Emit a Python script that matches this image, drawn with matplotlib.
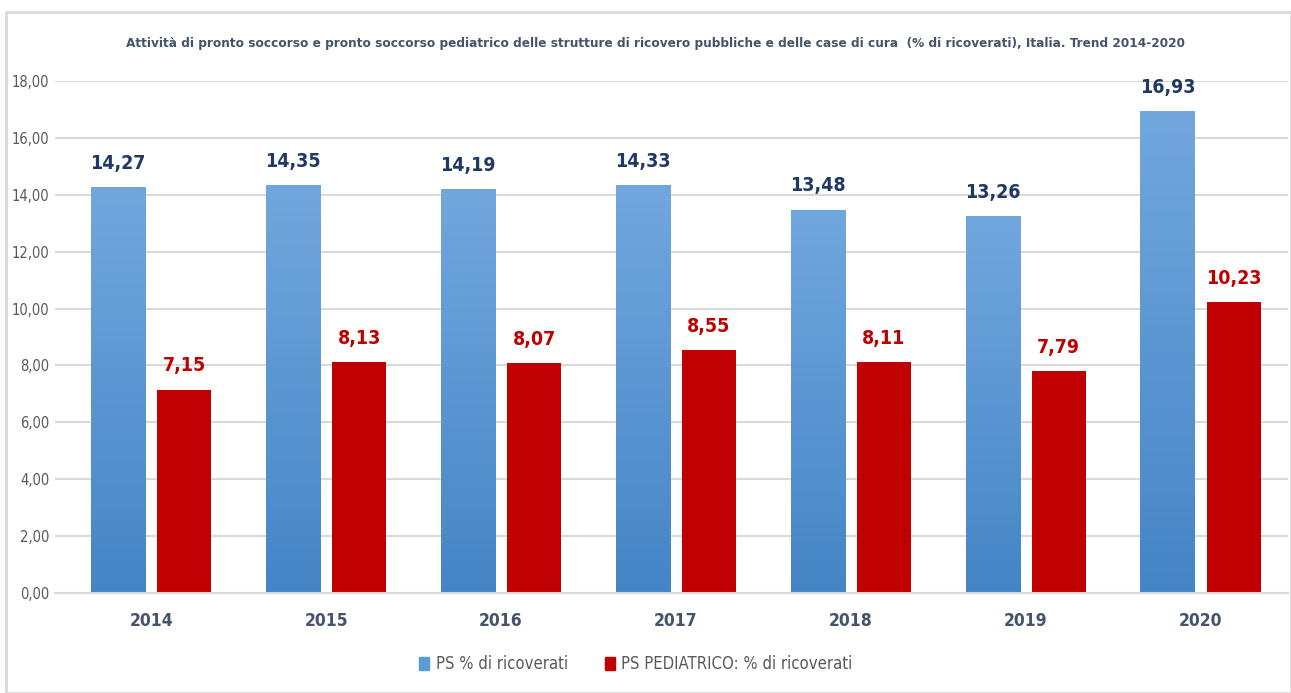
import matplotlib
matplotlib.use("Agg")
import matplotlib.pyplot as plt
import numpy as np
from matplotlib.patches import Rectangle
from matplotlib.colors import LinearSegmentedColormap

years = ["2014", "2015", "2016", "2017", "2018", "2019", "2020"]
ps = [14.27, 14.35, 14.19, 14.33, 13.48, 13.26, 16.93]
ps_ped = [7.15, 8.13, 8.07, 8.55, 8.11, 7.79, 10.23]
yticks = [0, 2, 4, 6, 8, 10, 12, 14, 16, 18]
title = "Attività di pronto soccorso e pronto soccorso pediatrico delle strutture di ricovero pubbliche e delle case di cura  (% di ricoverati), Italia. Trend 2014-2020"
legend_labels = ["PS % di ricoverati", "PS PEDIATRICO: % di ricoverati"]

plt.rcParams['font.family'] = ['DejaVu Sans']
plt.rcParams['font.stretch'] = 'condensed'

fig = plt.figure(figsize=(12.91, 6.93), dpi=100)
fig.patches.append(Rectangle((6/1291, 0), 1 - 6/1291, 1 - 12/693, transform=fig.transFigure,
                             fill=False, edgecolor="#d9d9d9", linewidth=2))
ax = fig.add_axes([55/1291, 100/693, (1288-55)/1291, (593-81)/693])

x = np.arange(len(years))
w = 0.309
off = 0.189
blue_bars = ax.bar(x - off, ps, width=w, color="#5b9bd5", zorder=2)
red_bars = ax.bar(x + off, ps_ped, width=w, color="#c00000", zorder=2)

grad = np.linspace(0, 1, 256).reshape(-1, 1)
cmap = LinearSegmentedColormap.from_list("g", ["#4585c6", "#72a7de"])
for b in blue_bars:
    bx, by, bw, bh = b.get_x(), b.get_y(), b.get_width(), b.get_height()
    im = ax.imshow(grad, extent=[bx, bx + bw, by, by + bh], origin="lower", cmap=cmap,
                   aspect="auto", zorder=2.1)
    im.set_clip_path(b)

for xi, v in zip(x, ps):
    ax.text(xi - off, v + 0.5, f"{v:.2f}".replace(".", ","), ha="center", va="bottom",
            fontsize=14, fontweight="bold", color="#1f3864")
for xi, v in zip(x, ps_ped):
    ax.text(xi + off, v + 0.5, f"{v:.2f}".replace(".", ","), ha="center", va="bottom",
            fontsize=14, fontweight="bold", color="#c00000")

ax.set_xlim(-0.55, 6.5)
ax.set_ylim(0, 18)
ax.set_yticks(yticks)
ax.set_yticklabels([f"{t:.2f}".replace(".", ",") for t in yticks], fontsize=10.5, color="#595959")
ax.set_xticks(x)
ax.set_xticklabels(years, fontsize=12.5, fontweight="bold", color="#44546a")
ax.tick_params(length=0)
ax.tick_params(axis="x", pad=14)
ax.tick_params(axis="y", pad=4)
ax.grid(axis="y", color="#d9d9d9", linewidth=1.5, zorder=0)
for s in ["top", "right", "left"]:
    ax.spines[s].set_visible(False)
ax.spines["bottom"].set_color("#d9d9d9")
ax.spines["bottom"].set_linewidth(1.5)

fig.text(656/1291, 1 - 43/693, title, ha="center", va="center", fontsize=9.7,
         fontweight="bold", color="#44546a")

handles = [Rectangle((0, 0), 1, 1, color="#5b9bd5"), Rectangle((0, 0), 1, 1, color="#c00000")]
fig.legend(handles, legend_labels, loc="center", bbox_to_anchor=(636/1291, 1 - 664/693), ncol=2,
           frameon=False, fontsize=12, labelcolor="#595959", handlelength=0.6, handleheight=0.8,
           handletextpad=0.4, columnspacing=2.2)

fig.savefig("out.png", dpi=100)
